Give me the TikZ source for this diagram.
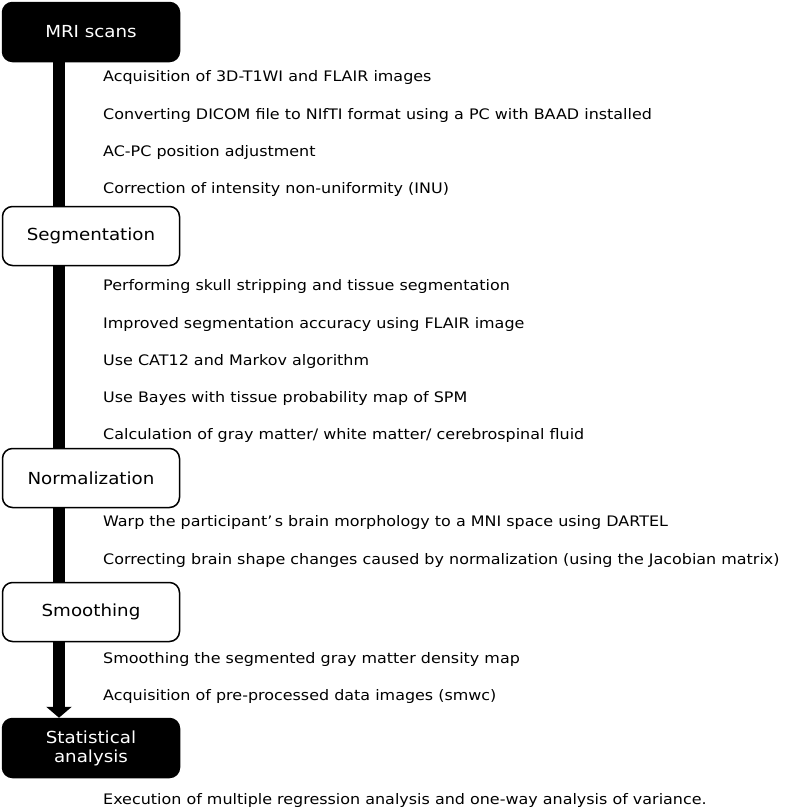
\documentclass[tikz,border=0pt]{standalone}
\usepackage{fontspec}
\setmainfont[FakeStretch=1.1]{DejaVu Sans}
\usetikzlibrary{arrows.meta,backgrounds}
\begin{document}
\begin{tikzpicture}[x=1pt,y=-1pt,
  stage/.style={draw=black,line width=1.5pt,rounded corners=10pt,minimum width=177pt,minimum height=59pt,inner sep=0pt,align=center,font=\fontsize{16.6}{19}\selectfont},
  darkstage/.style={stage,fill=black,text=white},
  lightstage/.style={stage,fill=white,text=black},
  item/.style={anchor=west,inner sep=0pt,font=\fontsize{14.5}{17}\selectfont}]
\useasboundingbox (0,0) rectangle (789,812);
\node[darkstage] (mri) at (91,32) {MRI scans};
\node[lightstage] (seg) at (91,236) {Segmentation};
\node[lightstage] (norm) at (91,478) {Normalization};
\node[lightstage] (smo) at (91,612) {Smoothing};
\node[darkstage] (stat) at (91,748) {Statistical\\analysis};
\begin{scope}[on background layer]
\draw[line width=12pt,-{Triangle[width=25pt,length=11pt]}] ([xshift=-32pt]mri.south) -- ([xshift=-32pt]stat.north);
\end{scope}
\node[item] (t1) at (103,77) {Acquisition of 3D-T1WI and FLAIR images};
\node[item] (t2) at (103,115) {Converting DICOM file to NIfTI format using a PC with BAAD installed};
\node[item] (t3) at (103,152) {AC-PC position adjustment};
\node[item] (t4) at (103,189) {Correction of intensity non-uniformity (INU)};
\node[item] (t5) at (103,286) {Performing skull stripping and tissue segmentation};
\node[item] (t6) at (103,324) {Improved segmentation accuracy using FLAIR image};
\node[item] (t7) at (103,361) {Use CAT12 and Markov algorithm};
\node[item] (t8) at (103,398) {Use Bayes with tissue probability map of SPM};
\node[item] (t9) at (103,435) {Calculation of gray matter/ white matter/ cerebrospinal fluid};
\node[item] (t10) at (103,522) {Warp the participant’\,s brain morphology to a MNI space using DARTEL};
\node[item] (t11) at (103,560) {Correcting brain shape changes caused by normalization (using the Jacobian matrix)};
\node[item] (t12) at (103,659) {Smoothing the segmented gray matter density map};
\node[item] (t13) at (103,696) {Acquisition of pre-processed data images (smwc)};
\node[item] (t14) at (103,800) {Execution of multiple regression analysis and one-way analysis of variance.};
\end{tikzpicture}
\end{document}
